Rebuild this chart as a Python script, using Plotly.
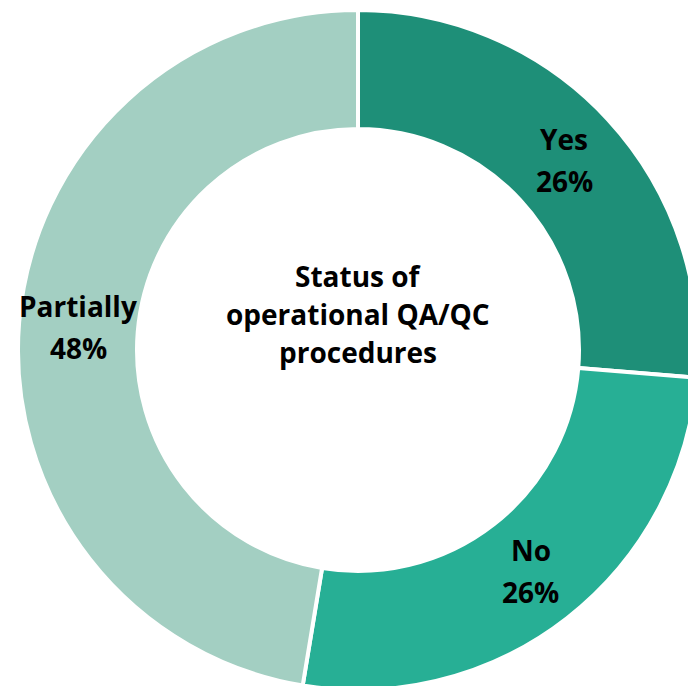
import math
import plotly.graph_objects as go

categories = ["Yes", "No", "Partially"]
values = [26.3, 26.3, 47.4]
pct_labels = ["26%", "26%", "48%"]
colors = ["#1E8F78", "#27AF95", "#A3CFC2"]
title_lines = ["Status of", "operational QA/QC", "procedures"]

W, H = 700, 700
CX, CY = 358, 350          # pie centre in px (from top-left)
R_OUT = 340
HOLE = 0.65
R_LBL = R_OUT * (1 + HOLE) / 2
FONT = "Open Sans"
FS = 28

fig = go.Figure(go.Pie(
    labels=categories,
    values=values,
    sort=False,
    direction="clockwise",
    rotation=0,
    hole=HOLE,
    marker=dict(colors=colors, line=dict(color="white", width=4)),
    textinfo="none",
    domain=dict(x=[(CX - R_OUT) / W, (CX + R_OUT) / W],
                y=[1 - (CY + R_OUT) / H, 1 - (CY - R_OUT) / H]),
    showlegend=False,
    hoverinfo="label+percent",
))

total = sum(values)
cum = 0
for cat, v, pct in zip(categories, values, pct_labels):
    mid = (cum + v / 2) / total * 2 * math.pi
    cum += v
    px = CX + R_LBL * math.sin(mid)
    py = CY - R_LBL * math.cos(mid)
    for txt, off in ((cat, -21), (pct, 21)):
        fig.add_annotation(
            text=f"<b>{txt}</b>", x=px / W, y=1 - (py + off) / H,
            xref="paper", yref="paper", showarrow=False,
            font=dict(family=FONT, size=FS, color="black"),
            xanchor="center", yanchor="middle",
        )

for i, line in enumerate(title_lines):
    fig.add_annotation(
        text=f"<b>{line}</b>", x=CX / W, y=1 - (276 + 38 * i) / H,
        xref="paper", yref="paper", showarrow=False,
        font=dict(family=FONT, size=FS, color="black"),
        xanchor="center", yanchor="middle",
    )

fig.update_layout(
    width=W, height=H,
    margin=dict(l=0, r=0, t=0, b=0),
    paper_bgcolor="white",
    plot_bgcolor="white",
)
fig.write_html(
    "out.html",
    config={"displayModeBar": False},
    post_script="document.body.style.margin='0';document.body.style.overflow='hidden';document.documentElement.style.overflow='hidden';",
)
